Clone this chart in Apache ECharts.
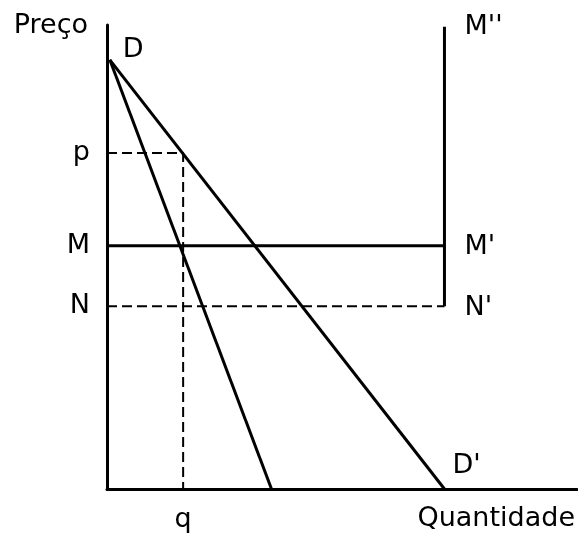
<!DOCTYPE html>
<html>
<head>
<meta charset="utf-8">
<script src="https://cdn.jsdelivr.net/npm/echarts@6/dist/echarts.min.js"></script>
<style>
  html, body { margin: 0; padding: 0; background: #fff; }
  #chart { width: 578px; height: 533px; }
</style>
</head>
<body>
<div id="chart"></div>
<script>
// points (x: quantity 0-100, y: price 0-100)
const pointD = [0.6, 92.5]
const pointDPrime = [71.8, 0]
const steepEnd = [35.0, 0]
const pPrice = 72.4
const mPrice = 52.4
const nPrice = 39.4
const qQty = 16.2
const capQty = 71.8
const capTop = 99.6

const yTickValues = [nPrice, mPrice, pPrice]
const yTickNames = ['N', 'M', 'p']
const xTickValues = [qQty]
const xTickNames = ['q']

const FONT = 'DejaVu Sans'
const SIZE = 27
const ink = '#000'

const lbl = (text, dx, dy) => ({
  show: true,
  position: 'inside',
  align: 'left',
  verticalAlign: 'middle',
  offset: [dx, dy],
  formatter: text,
  color: ink,
  fontFamily: FONT,
  fontSize: SIZE,
})

const solid = w => ({ color: ink, width: w, type: 'solid' })
const dashed = { color: ink, width: 2, type: [10, 5] }

const lineSeries = (data, lineStyle) => ({
  type: 'line',
  data,
  symbol: 'circle',
  symbolSize: 0,
  lineStyle,
  itemStyle: { color: ink },
  silent: true,
})

const option = {
  animation: false,
  grid: { left: 107, right: 0, top: 25, bottom: 44 },
  xAxis: {
    type: 'value',
    min: 0,
    max: 100,
    splitLine: { show: false },
    axisTick: { show: false },
    axisLine: { show: true, onZero: false, lineStyle: { color: ink, width: 3 } },
    axisLabel: {
      customValues: xTickValues,
      formatter: v => xTickNames[xTickValues.indexOf(v)],
      color: ink,
      fontFamily: FONT,
      fontSize: SIZE,
      margin: 17,
    },
    name: 'Quantidade',
    nameLocation: 'end',
    nameGap: -2,
    nameTextStyle: {
      color: ink,
      fontFamily: FONT,
      fontSize: SIZE,
      align: 'right',
      verticalAlign: 'top',
      padding: [16, 0, 0, 0],
    },
  },
  yAxis: {
    type: 'value',
    min: 0,
    max: 100,
    splitLine: { show: false },
    axisTick: { show: false },
    axisLine: { show: true, onZero: false, lineStyle: { color: ink, width: 3 } },
    axisLabel: {
      customValues: yTickValues,
      formatter: v => yTickNames[yTickValues.indexOf(v)],
      color: ink,
      fontFamily: FONT,
      fontSize: SIZE,
      margin: 17,
    },
    name: 'Preço',
    nameLocation: 'end',
    nameGap: -1,
    nameTextStyle: {
      color: ink,
      fontFamily: FONT,
      fontSize: SIZE,
      align: 'right',
      verticalAlign: 'middle',
      padding: [0, 19, 0, 0],
    },
  },
  series: [
    // D - D'
    lineSeries([
      { value: pointD, label: lbl('D', 13, -10) },
      { value: pointDPrime, label: lbl("D'", 8, -23) },
    ], solid(3)),
    // steeper curve from D
    lineSeries([pointD, steepEnd], solid(3)),
    // M - M'
    lineSeries([
      [0, mPrice],
      { value: [capQty, mPrice], label: lbl("M'", 20, 1) },
    ], solid(3)),
    // vertical N' - M''
    lineSeries([
      { value: [capQty, nPrice], label: lbl("N'", 20, 2) },
      { value: [capQty, capTop], label: lbl("M''", 20, 0) },
    ], solid(3)),
    // N - N' dashed
    lineSeries([[0, nPrice], [capQty, nPrice]], dashed),
    // p - q dashed
    lineSeries([[0, pPrice], [qQty, pPrice], [qQty, 0]], dashed),
  ],
}

const chart = echarts.init(document.getElementById('chart'))
chart.setOption(option)
</script>
</body>
</html>
